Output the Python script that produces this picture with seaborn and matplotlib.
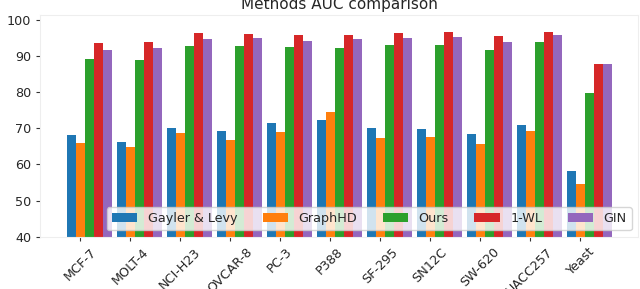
import numpy as np
import pandas as pd
import matplotlib
matplotlib.use("Agg")
import matplotlib.pyplot as plt
import seaborn as sns

datasets = ["MCF-7", "MOLT-4", "NCI-H23", "OVCAR-8", "PC-3", "P388",
            "SF-295", "SN12C", "SW-620", "UACC257", "Yeast"]
methods = ["Gayler & Levy", "GraphHD", "Ours", "1-WL", "GIN"]

gayler_levy = [68.1, 66.3, 70.2, 69.2, 71.6, 72.4, 70.1, 69.9, 68.4, 71.0, 58.2]
graphhd = [66.0, 64.7, 68.7, 66.8, 69.0, 74.5, 67.3, 67.6, 65.8, 69.3, 54.5]
ours = [89.3, 88.9, 92.9, 92.9, 92.4, 92.3, 93.2, 93.2, 91.6, 94.0, 79.7]
wl = [93.6, 93.9, 96.3, 96.0, 95.8, 95.8, 96.3, 96.6, 95.5, 96.7, 87.9]
gin = [91.7, 92.2, 94.7, 95.0, 94.3, 94.7, 95.0, 95.3, 94.0, 95.8, 87.9]

series = [gayler_levy, graphhd, ours, wl, gin]
rows = []
for m, vals in zip(methods, series):
    for d, v in zip(datasets, vals):
        rows.append({"Dataset": d, "Method": m, "AUC": v})
df = pd.DataFrame(rows)

sns.set_style("white")
plt.rcParams['font.family'] = ['DejaVu Sans']

fig = plt.figure(figsize=(6.4, 2.89), dpi=100)
ax = fig.add_axes([40/640, 1 - 236.7/289, (638 - 40)/640, (236.7 - 14.6)/289])

palette = ["#1f77b4", "#ff7f0e", "#2ca02c", "#d62728", "#9467bd"]
sns.barplot(data=df, x="Dataset", y="AUC", hue="Method", order=datasets,
            hue_order=methods, palette=palette, width=0.9, saturation=1,
            errorbar=None, linewidth=0, ax=ax)

fs = 9.2
ax.set_ylim(40, 101.5)
ax.set_yticks([40, 50, 60, 70, 80, 90, 100])
ax.set_xlim(-0.98, 10.98)
ticks = np.arange(len(datasets)) - 0.18
ax.set_xticks(ticks)
ax.set_xticklabels(datasets, rotation=45, ha="center", fontsize=fs)
ax.tick_params(axis="both", which="major", length=3.2, width=0.8, color="#333333",
               bottom=True, left=True, labelsize=fs, pad=3)
ax.set_xlabel("")
ax.set_ylabel("AUC", fontsize=fs, labelpad=4)
ax.set_title("Methods AUC comparison", fontsize=11, pad=4)
for s in ax.spines.values():
    s.set_color("#eeeeee")
    s.set_linewidth(0.8)

leg = ax.legend(loc="lower right", ncol=5, fontsize=fs, frameon=True, framealpha=0.8,
                title=None)

fig.savefig("out.png", dpi=100)
